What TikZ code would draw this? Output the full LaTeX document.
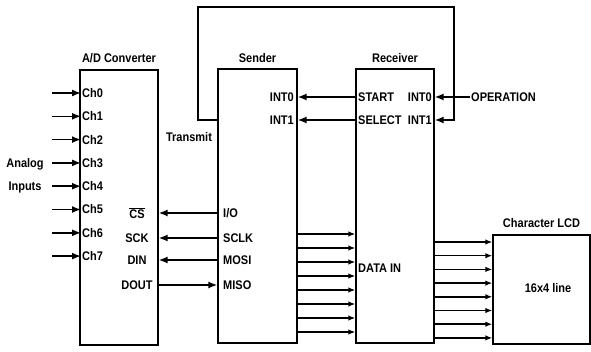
\documentclass[tikz,border=0pt]{standalone}
\usepackage{fontspec}
\setmainfont{Liberation Sans}[FakeStretch=0.88]
\usetikzlibrary{arrows.meta,positioning}

\begin{document}
\begin{tikzpicture}[
				x=1pt, y=-1pt,
				font=\fontsize{12.5}{13}\selectfont\bfseries,
				>={Latex[length=9pt,width=7pt]},
				block/.style={
					rectangle, draw=black, line width=1.3pt,
					inner sep=0pt
				},
				title/.style={inner sep=1pt},
				pinlabel/.style={inner sep=1pt},
				arr/.style={->, line width=1.5pt},
				bus/.style={-{Latex[length=7pt,width=5.5pt]}, line width=1.5pt}
				]
				\useasboundingbox (0,0) rectangle (591,352);
				
				%% ─── BLOCKS ──────────────────────────────────────────────────────────────
				\node[block, minimum width=78pt, minimum height=275pt] (adc) at (119,207.5) {};
				\node[block, minimum width=79pt, minimum height=274pt] (snd) at (257.5,206) {};
				\node[block, minimum width=78pt, minimum height=274pt] (rcv) at (395,206) {};
				\node[block, minimum width=97pt, minimum height=109pt] (lcd) at (541.5,289.5) {};
				
				\node[title, above=5pt of adc] (adct) {A/D Converter};
				\node[title, above=5pt of snd] (sndt) {Sender};
				\node[title, above=5pt of rcv] (rcvt) {Receiver};
				\node[title, above=6pt of lcd] (lcdt) {Character LCD};
				
				%% ─── ANALOG INPUTS ───────────────────────────────────────────────────────
				\foreach \i in {0,...,7}{
					\node[pinlabel, anchor=west] (ch\i) at (81,{93+23.3*\i}) {Ch\i};
					\coordinate (in\i) at (52,{93+23.3*\i});
					\draw[arr] (in\i) -- (ch\i.west);
				}
				\node[align=center, inner sep=0pt, font=\fontsize{12.5}{23}\selectfont\bfseries] (ain) at (25,176) {Analog\\Inputs};
				
				\node[pinlabel] (cs) at (137,213) {$\overline{\mbox{CS}}$};
				\node[pinlabel] (sck) at (137,238) {SCK};
				\node[pinlabel] (din) at (137,260) {DIN};
				\node[pinlabel] (dout) at (137,285) {DOUT};
				
				%% ─── SENDER ──────────────────────────────────────────────────────────────
				\node[pinlabel, anchor=west] (io) at (222,213) {I/O};
				\node[pinlabel, anchor=west] (sclk) at (222,238) {SCLK};
				\node[pinlabel, anchor=west] (mosi) at (222,260) {MOSI};
				\node[pinlabel, anchor=west] (miso) at (222,285) {MISO};
				\node[pinlabel, anchor=east] (sint0) at (295,97) {INT0};
				\node[pinlabel, anchor=east] (sint1) at (295,120) {INT1};
				
				\draw[arr] (io -| snd.west) -- (io -| adc.east);
				\draw[arr] (sclk -| snd.west) -- (sclk -| adc.east);
				\draw[arr] (mosi -| snd.west) -- (mosi -| adc.east);
				\draw[arr] (dout -| adc.east) -- (dout -| snd.west);
				
				%% ─── RECEIVER ────────────────────────────────────────────────────────────
				\node[pinlabel, anchor=west] (start) at (357,97) {START};
				\node[pinlabel, anchor=west] (select) at (357,120) {SELECT};
				\node[pinlabel, anchor=east] (rint0) at (433,97) {INT0};
				\node[pinlabel, anchor=east] (rint1) at (433,120) {INT1};
				\node[pinlabel, anchor=west] (datain) at (357,268) {DATA IN};
				
				\draw[arr] (start.west) -- (sint0.east -| snd.east);
				\draw[arr] (select.west) -- (sint1.east -| snd.east);
				
				\node[pinlabel, anchor=west] (oper) at (470,97) {OPERATION};
				\draw[arr] (oper.west) -- (rint0 -| rcv.east);
				
				% transmit loop
				\coordinate (loopl) at (198,7);
				\coordinate (loopr) at (454,7);
				\draw[arr] (sint1 -| snd.west) -| (loopl) -- (loopr) |- (rint1 -| rcv.east);
				\node[pinlabel] (trans) at (189,137) {Transmit};
				
				%% ─── DATA BUSES ──────────────────────────────────────────────────────────
				\foreach \i in {0,...,7}{
					\coordinate (sd\i) at (297,{234+14*\i});
					\draw[bus] (sd\i) -- (sd\i -| rcv.west);
					\coordinate (rd\i) at (434,{242+13.7*\i});
					\draw[bus] (rd\i) -- (rd\i -| lcd.west);
				}
				
				\node (lcdtxt) at (548,288) {16x4 line};
				
\end{tikzpicture}
\end{document}
